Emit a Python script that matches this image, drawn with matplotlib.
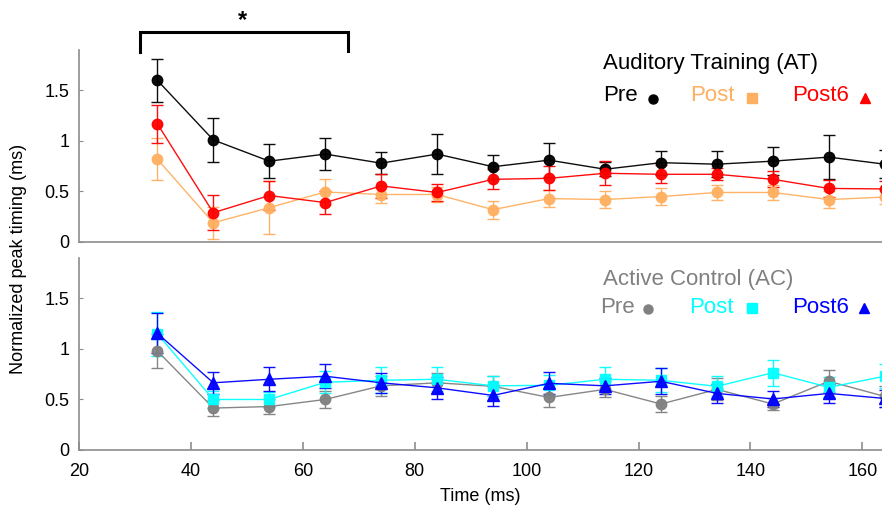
import numpy as np
import matplotlib
matplotlib.use('Agg')
import matplotlib.pyplot as plt

plt.rcParams['font.family'] = ['Liberation Sans', 'DejaVu Sans']

time_ms = [34, 44, 54, 64, 74, 84, 94, 104, 114, 124, 134, 144, 154, 164]

# Auditory Training (AT)
at_pre = [1.60, 1.01, 0.80, 0.87, 0.78, 0.87, 0.745, 0.81, 0.72, 0.785, 0.77, 0.80, 0.84, 0.77]
at_pre_err = [0.21, 0.22, 0.17, 0.16, 0.11, 0.20, 0.12, 0.17, 0.07, 0.12, 0.13, 0.14, 0.22, 0.14]
at_post = [0.82, 0.19, 0.34, 0.495, 0.47, 0.47, 0.32, 0.43, 0.42, 0.45, 0.49, 0.49, 0.42, 0.445]
at_post_err = [0.21, 0.16, 0.26, 0.125, 0.08, 0.07, 0.09, 0.08, 0.08, 0.08, 0.07, 0.07, 0.08, 0.07]
at_post6 = [1.17, 0.29, 0.46, 0.39, 0.555, 0.49, 0.62, 0.63, 0.68, 0.67, 0.67, 0.62, 0.53, 0.525]
at_post6_err = [0.19, 0.175, 0.14, 0.11, 0.12, 0.08, 0.10, 0.12, 0.12, 0.09, 0.06, 0.08, 0.08, 0.08]

# Active Control (AC)
ac_pre = [0.98, 0.415, 0.43, 0.50, 0.635, 0.665, 0.63, 0.52, 0.60, 0.455, 0.60, 0.455, 0.68, 0.53]
ac_pre_err = [0.17, 0.08, 0.07, 0.085, 0.10, 0.10, 0.10, 0.09, 0.08, 0.08, 0.11, 0.06, 0.11, 0.10]
ac_post = [1.15, 0.50, 0.50, 0.67, 0.69, 0.70, 0.635, 0.64, 0.70, 0.69, 0.63, 0.765, 0.62, 0.73]
ac_post_err = [0.22, 0.08, 0.07, 0.11, 0.13, 0.12, 0.10, 0.10, 0.12, 0.12, 0.10, 0.13, 0.10, 0.12]
ac_post6 = [1.155, 0.665, 0.70, 0.73, 0.665, 0.615, 0.54, 0.66, 0.635, 0.68, 0.56, 0.505, 0.56, 0.51]
ac_post6_err = [0.20, 0.11, 0.12, 0.12, 0.10, 0.11, 0.10, 0.11, 0.08, 0.13, 0.09, 0.08, 0.09, 0.08]

c_black, c_orange, c_red = '#000000', '#FFAF60', '#FF0000'
c_grey, c_cyan, c_blue = '#808080', '#00FFFF', '#0000FF'
spine_c = '#8c8c8c'

W, H = 882, 507
fig = plt.figure(figsize=(W / 100, H / 100), dpi=100)
ax1 = fig.add_axes([79 / W, 1 - 242 / H, (W - 79) / W, 192 / H])
ax2 = fig.add_axes([79 / W, 1 - 450 / H, (W - 79) / W, 192 / H])


def series(ax, y, err, color, marker, ms):
    ax.errorbar(time_ms, y, yerr=err, color=color, lw=1.0, marker=marker, ms=ms,
                elinewidth=1.0, capsize=4.5, capthick=1.0, alpha=0.95)


series(ax1, at_pre, at_pre_err, c_black, 'o', 7.5)
series(ax1, at_post, at_post_err, c_orange, 'o', 7.5)
series(ax1, at_post6, at_post6_err, c_red, 'o', 7.5)

series(ax2, ac_pre, ac_pre_err, c_grey, 'o', 7.5)
series(ax2, ac_post, ac_post_err, c_cyan, 's', 7)
series(ax2, ac_post6, ac_post6_err, c_blue, '^', 8)

for ax in (ax1, ax2):
    ax.set_xlim(20, 163.5)
    ax.set_ylim(0, 1.9)
    ax.set_yticks([0, 0.5, 1, 1.5], ['0', '0.5', '1', '1.5'])
    for s in ('top', 'right'):
        ax.spines[s].set_visible(False)
    for s in ('left', 'bottom'):
        ax.spines[s].set_color(spine_c)
        ax.spines[s].set_linewidth(1.2)
    ax.tick_params(axis='y', direction='in', length=3, color=spine_c,
                   labelsize=13, pad=7)
    ax.tick_params(axis='x', direction='in', length=6, color=spine_c,
                   labelsize=13, pad=9, width=1.2)

ax1.tick_params(axis='x', length=0, labelbottom=False)
ax2.set_xticks([20, 40, 60, 80, 100, 120, 140, 160])
ax2.set_xlabel('Time (ms)', fontsize=13, labelpad=6)
fig.text(19 / W, 0.49, 'Normalized peak timing (ms)', rotation=90,
         fontsize=13, ha='center', va='center')

# significance bracket
ax1.plot([30.9, 30.9, 68.0, 68.0], [1.88, 2.08, 2.08, 1.89], color='black',
         lw=2.2, clip_on=False, solid_joinstyle='miter')
ax1.text(49.2, 2.19, '*', fontsize=17, fontweight='bold', ha='center',
         va='center', clip_on=False)


# legend-like labels
def fx(px):
    return px / W


def fy(py):
    return 1 - py / H


fs = 16
fig.text(fx(603), fy(69), 'Auditory Training (AT)', fontsize=fs, va='baseline')
fig.text(fx(603), fy(101), 'Pre', fontsize=fs, va='baseline', color=c_black)
fig.text(fx(690), fy(101), 'Post', fontsize=fs, va='baseline', color=c_orange)
fig.text(fx(792), fy(101), 'Post6', fontsize=fs, va='baseline', color=c_red)
fig.lines.append(plt.Line2D([fx(653)], [fy(99)], marker='o', ms=6.5, color=c_black,
                            transform=fig.transFigure, ls='none'))
fig.lines.append(plt.Line2D([fx(752)], [fy(98)], marker='s', ms=7, color=c_orange,
                            transform=fig.transFigure, ls='none'))
fig.lines.append(plt.Line2D([fx(865)], [fy(98)], marker='^', ms=7, color=c_red,
                            transform=fig.transFigure, ls='none'))

fig.text(fx(603), fy(285), 'Active Control (AC)', fontsize=fs, va='baseline', color=c_grey)
fig.text(fx(600), fy(313), 'Pre', fontsize=fs, va='baseline', color=c_grey)
fig.text(fx(689), fy(313), 'Post', fontsize=fs, va='baseline', color=c_cyan)
fig.text(fx(792), fy(313), 'Post6', fontsize=fs, va='baseline', color=c_blue)
fig.lines.append(plt.Line2D([fx(648)], [fy(309)], marker='o', ms=6.5, color=c_grey,
                            transform=fig.transFigure, ls='none'))
fig.lines.append(plt.Line2D([fx(752)], [fy(308)], marker='s', ms=7, color=c_cyan,
                            transform=fig.transFigure, ls='none'))
fig.lines.append(plt.Line2D([fx(864)], [fy(308)], marker='^', ms=7, color=c_blue,
                            transform=fig.transFigure, ls='none'))

fig.savefig('out.png', dpi=100)
